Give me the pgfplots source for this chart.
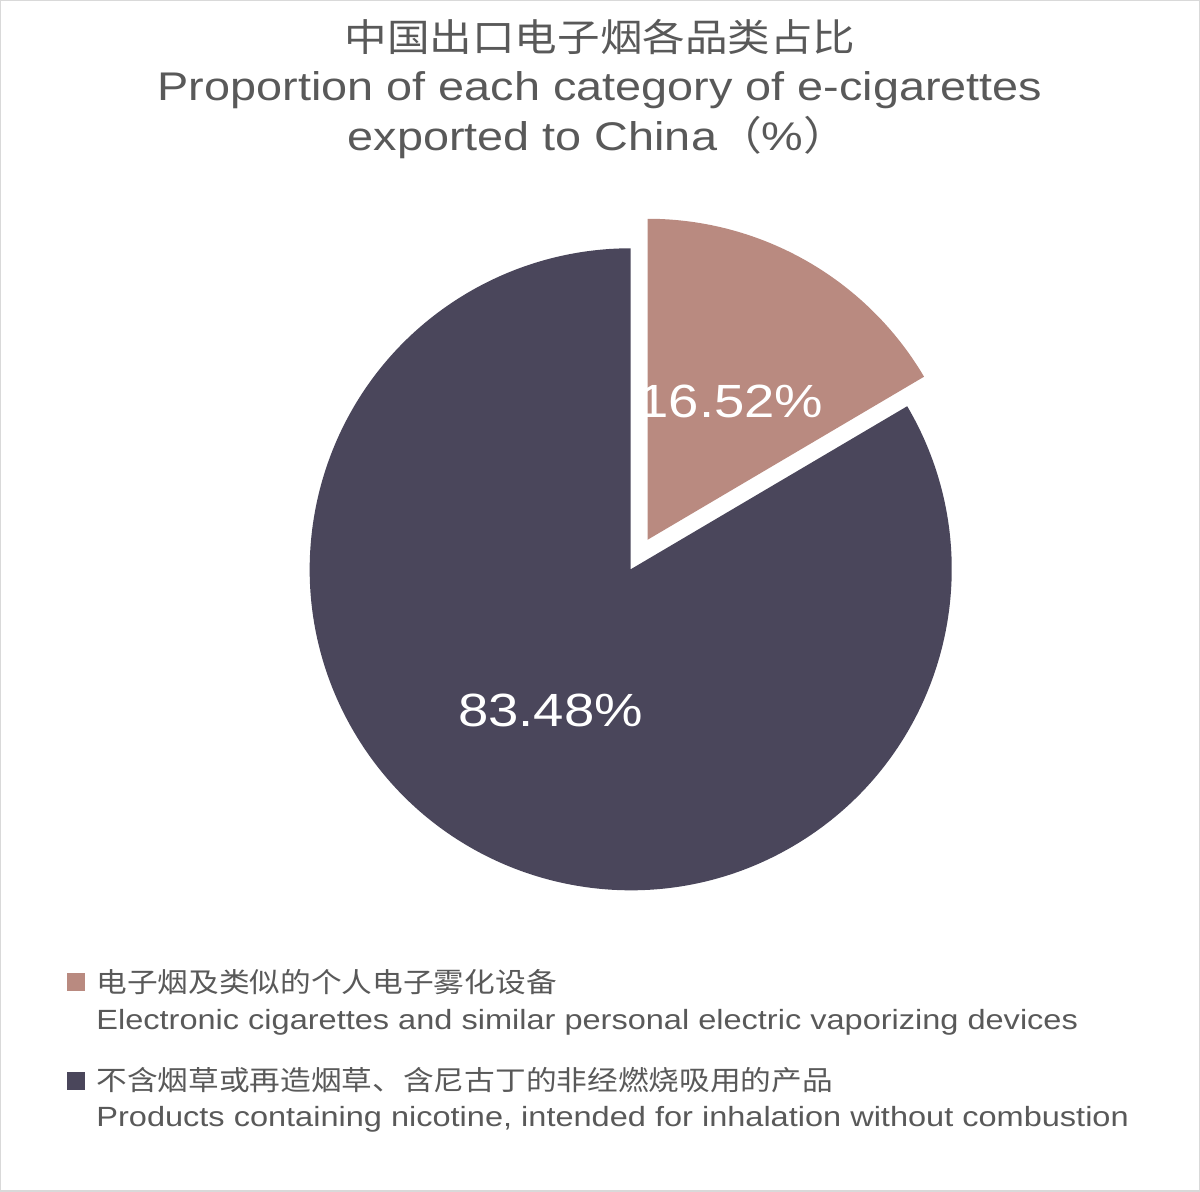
\documentclass[border=0pt]{standalone}
\usepackage{pgfplots}
\pgfplotsset{compat=1.18}
\usepackage{pgfplotstable}
\usepackage{fontspec}
\setmainfont{Liberation Sans}[FakeStretch=1.17]
\newfontfamily\cjk{Noto Sans CJK SC}[FakeStretch=1.12]

\definecolor{slicepink}{HTML}{B98A80}
\definecolor{slicedark}{HTML}{4A465B}
\definecolor{txtgrey}{HTML}{595959}
\definecolor{framegrey}{HTML}{D9D9D9}

% share of each category, percent
\pgfplotstableread{
share
16.52
83.48
}\sharetable

\begin{document}
\begin{tikzpicture}
\pgfplotstablegetelem{0}{share}\of\sharetable \let\shareA\pgfplotsretval
\pgfplotstablegetelem{1}{share}\of\sharetable \let\shareB\pgfplotsretval
\pgfmathsetmacro\angA{\shareA*3.6}
\pgfmathsetmacro\endA{90-\angA}
\pgfmathsetmacro\midA{90-\angA/2}
% pie centre and explode shift, in axis units (1 unit = 0.5pt)
\pgfmathsetmacro\cx{630.7}
\pgfmathsetmacro\cy{622.7}
\pgfmathsetmacro\px{\cx+34*cos(\midA)}
\pgfmathsetmacro\py{\cy+34*sin(\midA)}
\begin{axis}[
    hide axis,
    scale only axis,
    x=0.5pt, y=0.5pt,
    xmin=0, xmax=1200, ymin=0, ymax=1192,
    clip=false,
]
\path (axis cs:0,0) rectangle (axis cs:1200,1192);
\draw[framegrey, line width=0.75pt] (axis cs:0.75,0.75) rectangle (axis cs:1199.25,1191.25);

% slices
\fill[slicedark] (axis cs:\cx,\cy) -- ++(\endA:160.5pt)
    arc[start angle=\endA, end angle=-270, radius=160.5pt] -- cycle;
\fill[slicepink] (axis cs:\px,\py) -- ++(90:160.5pt)
    arc[start angle=90, end angle=\endA, radius=160.5pt] -- cycle;

% data labels
\node[white, inner sep=0, font=\fontsize{23.3}{28}\selectfont] at (axis cs:731,791) {\shareA\%};
\node[white, inner sep=0, font=\fontsize{23.3}{28}\selectfont] at (axis cs:550.5,482) {\shareB\%};

% title
\node[txtgrey, inner sep=0, font=\fontsize{19}{23}\selectfont\cjk] at (axis cs:600,1155) {中国出口电子烟各品类占比};
\node[txtgrey, inner sep=0, anchor=base, font=\fontsize{20}{24}\selectfont] at (axis cs:600,1091) {Proportion of each category of e-cigarettes};
\node[txtgrey, inner sep=0, anchor=base, font=\fontsize{20}{24}\selectfont] at (axis cs:598,1041) {exported to China{\cjk （}\%{\cjk ）}};

% legend
\fill[slicepink] (axis cs:67,201) rectangle (axis cs:85,219);
\fill[slicedark] (axis cs:67,102) rectangle (axis cs:85,120);
\node[txtgrey, inner sep=0, anchor=west, font=\fontsize{13.7}{16}\selectfont\cjk] at (axis cs:96,209.5) {电子烟及类似的个人电子雾化设备};
\node[txtgrey, inner sep=0, anchor=base west, font=\fontsize{13.9}{16}\selectfont] at (axis cs:96,162) {Electronic cigarettes and similar personal electric vaporizing devices};
\node[txtgrey, inner sep=0, anchor=west, font=\fontsize{13.7}{16}\selectfont\cjk] at (axis cs:96,111.5) {不含烟草或再造烟草、含尼古丁的非经燃烧吸用的产品};
\node[txtgrey, inner sep=0, anchor=base west, font=\fontsize{13.9}{16}\selectfont] at (axis cs:96,65) {Products containing nicotine, intended for inhalation without combustion};
\end{axis}
\end{tikzpicture}
\end{document}
